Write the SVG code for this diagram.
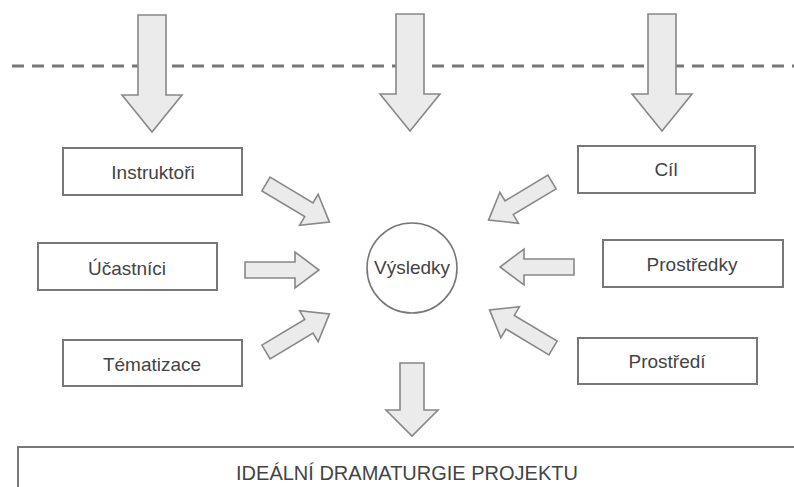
<svg xmlns="http://www.w3.org/2000/svg" xmlns:xlink="http://www.w3.org/1999/xlink" width="794" height="487" viewBox="0 0 794 487">
<style>
.box{fill:#fff;stroke:#777;stroke-width:2}
.lbl{font-family:"Liberation Sans",Arial,sans-serif;font-size:19px;fill:#444;text-anchor:middle;dominant-baseline:central}
.arr{fill:#ebebeb;stroke:#888;stroke-width:1.6;stroke-linejoin:miter}
</style>
<defs>
<path id="sa" d="M0,-8 H50 V-18 L74,0 L50,18 V8 H0 Z"/>
<path id="ta" d="M-14,0 V80 H-30 L0,117 L30,80 H14 V0 Z"/>
</defs>
<rect width="794" height="487" fill="#fff"/>
<line x1="12" y1="66" x2="794" y2="66" stroke="#777" stroke-width="3" stroke-dasharray="12 8"/>
<g id="connectors">
<use xlink:href="#ta" class="arr" transform="translate(152,15)"/>
<use xlink:href="#ta" class="arr" transform="translate(410,14)"/>
<use xlink:href="#ta" class="arr" transform="translate(662,14)"/>
<use xlink:href="#sa" class="arr" transform="translate(266,184) rotate(31)"/>
<use xlink:href="#sa" class="arr" transform="translate(245,270)"/>
<use xlink:href="#sa" class="arr" transform="translate(266,352) rotate(-31)"/>
<use xlink:href="#sa" class="arr" transform="translate(552,182) rotate(149)"/>
<use xlink:href="#sa" class="arr" transform="translate(574,267) rotate(180)"/>
<use xlink:href="#sa" class="arr" transform="translate(553,348) rotate(211)"/>
<path class="arr" d="M400,363 H424 V410 H438 L412,436 L386,410 H400 Z"/>
</g>
<g id="instruktori"><rect class="box" x="63" y="148" width="179" height="47"/><text class="lbl" x="153" y="172">Instruktoři</text></g>
<g id="ucastnici"><rect class="box" x="38" y="243" width="179" height="47"/><text class="lbl" x="127" y="268">Účastníci</text></g>
<g id="tematizace"><rect class="box" x="63" y="340" width="179" height="46"/><text class="lbl" x="152" y="364">Tématizace</text></g>
<g id="cil"><rect class="box" x="578" y="146" width="177" height="47"/><text class="lbl" x="666" y="169">Cíl</text></g>
<g id="prostredky"><rect class="box" x="603" y="240" width="180" height="47"/><text class="lbl" x="692" y="264">Prostředky</text></g>
<g id="prostredi"><rect class="box" x="578" y="338" width="179" height="46"/><text class="lbl" x="667" y="361">Prostředí</text></g>
<g id="vysledky"><circle cx="412" cy="268" r="45" fill="#fff" stroke="#777" stroke-width="1.6"/><text class="lbl" x="412" y="267">Výsledky</text></g>
<g id="idealni"><rect class="box" x="18" y="447" width="790" height="60"/><text class="lbl" x="407" y="473" style="font-size:20px">IDEÁLNÍ DRAMATURGIE PROJEKTU</text></g>
</svg>
